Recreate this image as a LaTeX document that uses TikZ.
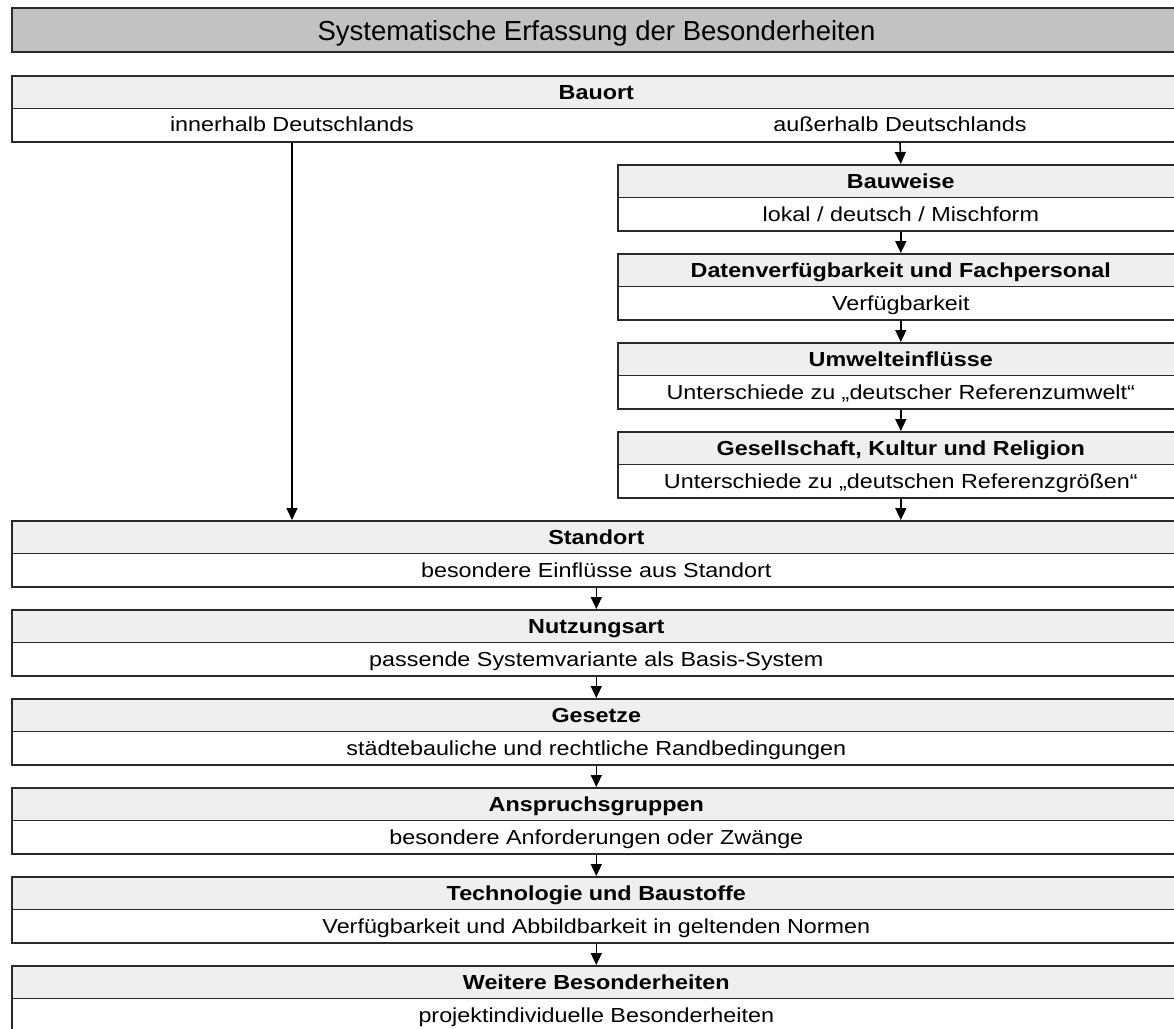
\documentclass[tikz,border=0pt]{standalone}
\usepackage{fontspec}
\setmainfont{Liberation Sans}
\newfontfamily\boxfont{Liberation Sans}[FakeStretch=1.15]
\usetikzlibrary{arrows.meta}

\definecolor{titlegrey}{HTML}{C2C2C2}
\definecolor{headgrey}{HTML}{EFEFEF}
\definecolor{framegrey}{HTML}{2A2A2A}

\tikzset{
  box/.style={draw=framegrey, line width=1.6pt, rectangle, inner sep=0pt,
    anchor=north west, text height=14.5pt, text depth=0pt,
    font=\boxfont\fontsize{20.3}{24}\selectfont},
  mainhead/.style={box, fill=headgrey, minimum width=1169pt, minimum height=32.5pt,
    font=\boxfont\bfseries\fontsize{20.3}{24}\selectfont},
  mainbody/.style={box, fill=white, minimum width=1169pt, minimum height=33.5pt},
  subhead/.style={mainhead, minimum width=566pt},
  subbody/.style={mainbody, minimum width=566pt},
  rowtext/.style={inner sep=0pt, text height=14.5pt, text depth=0pt,
    font=\boxfont\fontsize{20.3}{24}\selectfont},
  titlebox/.style={draw=framegrey, line width=2pt, fill=titlegrey, rectangle,
    inner sep=0pt, anchor=north west, minimum width=1169pt, minimum height=44pt,
    text height=20pt, text depth=0pt, font=\fontsize{27.5}{32}\selectfont},
  arr/.style={draw=black, line width=1.6pt, -{Triangle[length=12pt,width=11pt]}},
}

\begin{document}
\begin{tikzpicture}[x=1pt, y=-1pt]
  \fill[white] (0,0) rectangle (1174,1028);
  \clip (0,0) rectangle (1174,1028);

  % heading
  \node[titlebox] (title) at (11,7) {Systematische Erfassung der Besonderheiten};

  % building site
  \node[mainhead] (bauortH) at (11,75) {Bauort};
  \node[mainbody] (bauortB) at (11,107.5) {};
  \node[rowtext] (inner) at (292,124) {innerhalb Deutschlands};
  \node[rowtext] (outer) at (900,124) {außerhalb Deutschlands};

  % branch for sites abroad
  \node[subhead] (bauweiseH) at (617,164) {Bauweise};
  \node[subbody] (bauweiseB) at (617,196.5) {lokal / deutsch / Mischform};
  \node[subhead] (datenH) at (617,253) {Datenverfügbarkeit und Fachpersonal};
  \node[subbody] (datenB) at (617,285.5) {Verfügbarkeit};
  \node[subhead] (umweltH) at (617,342) {Umwelteinflüsse};
  \node[subbody] (umweltB) at (617,374.5) {Unterschiede zu „deutscher Referenzumwelt“};
  \node[subhead] (gesH) at (617,431) {Gesellschaft, Kultur und Religion};
  \node[subbody] (gesB) at (617,463.5) {Unterschiede zu „deutschen Referenzgrößen“};

  % main sequence
  \node[mainhead] (standortH) at (11,520) {Standort};
  \node[mainbody] (standortB) at (11,552.5) {besondere Einflüsse aus Standort};
  \node[mainhead] (nutzungH) at (11,609) {Nutzungsart};
  \node[mainbody] (nutzungB) at (11,641.5) {passende Systemvariante als Basis-System};
  \node[mainhead] (gesetzeH) at (11,698) {Gesetze};
  \node[mainbody] (gesetzeB) at (11,730.5) {städtebauliche und rechtliche Randbedingungen};
  \node[mainhead] (anspruchH) at (11,787) {Anspruchsgruppen};
  \node[mainbody] (anspruchB) at (11,819.5) {besondere Anforderungen oder Zwänge};
  \node[mainhead] (technoH) at (11,876) {Technologie und Baustoffe};
  \node[mainbody] (technoB) at (11,908.5) {Verfügbarkeit und Abbildbarkeit in geltenden Normen};
  \node[mainhead] (weitereH) at (11,965) {Weitere Besonderheiten};
  \node[mainbody] (weitereB) at (11,997.5) {projektindividuelle Besonderheiten};

  % connectors
  \draw[arr] (bauortB.south -| inner) -- (standortH.north -| inner);
  \draw[arr] (bauortB.south -| outer) -- (bauweiseH.north);
  \draw[arr] (bauweiseB.south) -- (datenH.north);
  \draw[arr] (datenB.south) -- (umweltH.north);
  \draw[arr] (umweltB.south) -- (gesH.north);
  \draw[arr] (gesB.south) -- (standortH.north -| gesB.south);
  \draw[arr] (standortB.south) -- (nutzungH.north);
  \draw[arr] (nutzungB.south) -- (gesetzeH.north);
  \draw[arr] (gesetzeB.south) -- (anspruchH.north);
  \draw[arr] (anspruchB.south) -- (technoH.north);
  \draw[arr] (technoB.south) -- (weitereH.north);
\end{tikzpicture}
\end{document}
